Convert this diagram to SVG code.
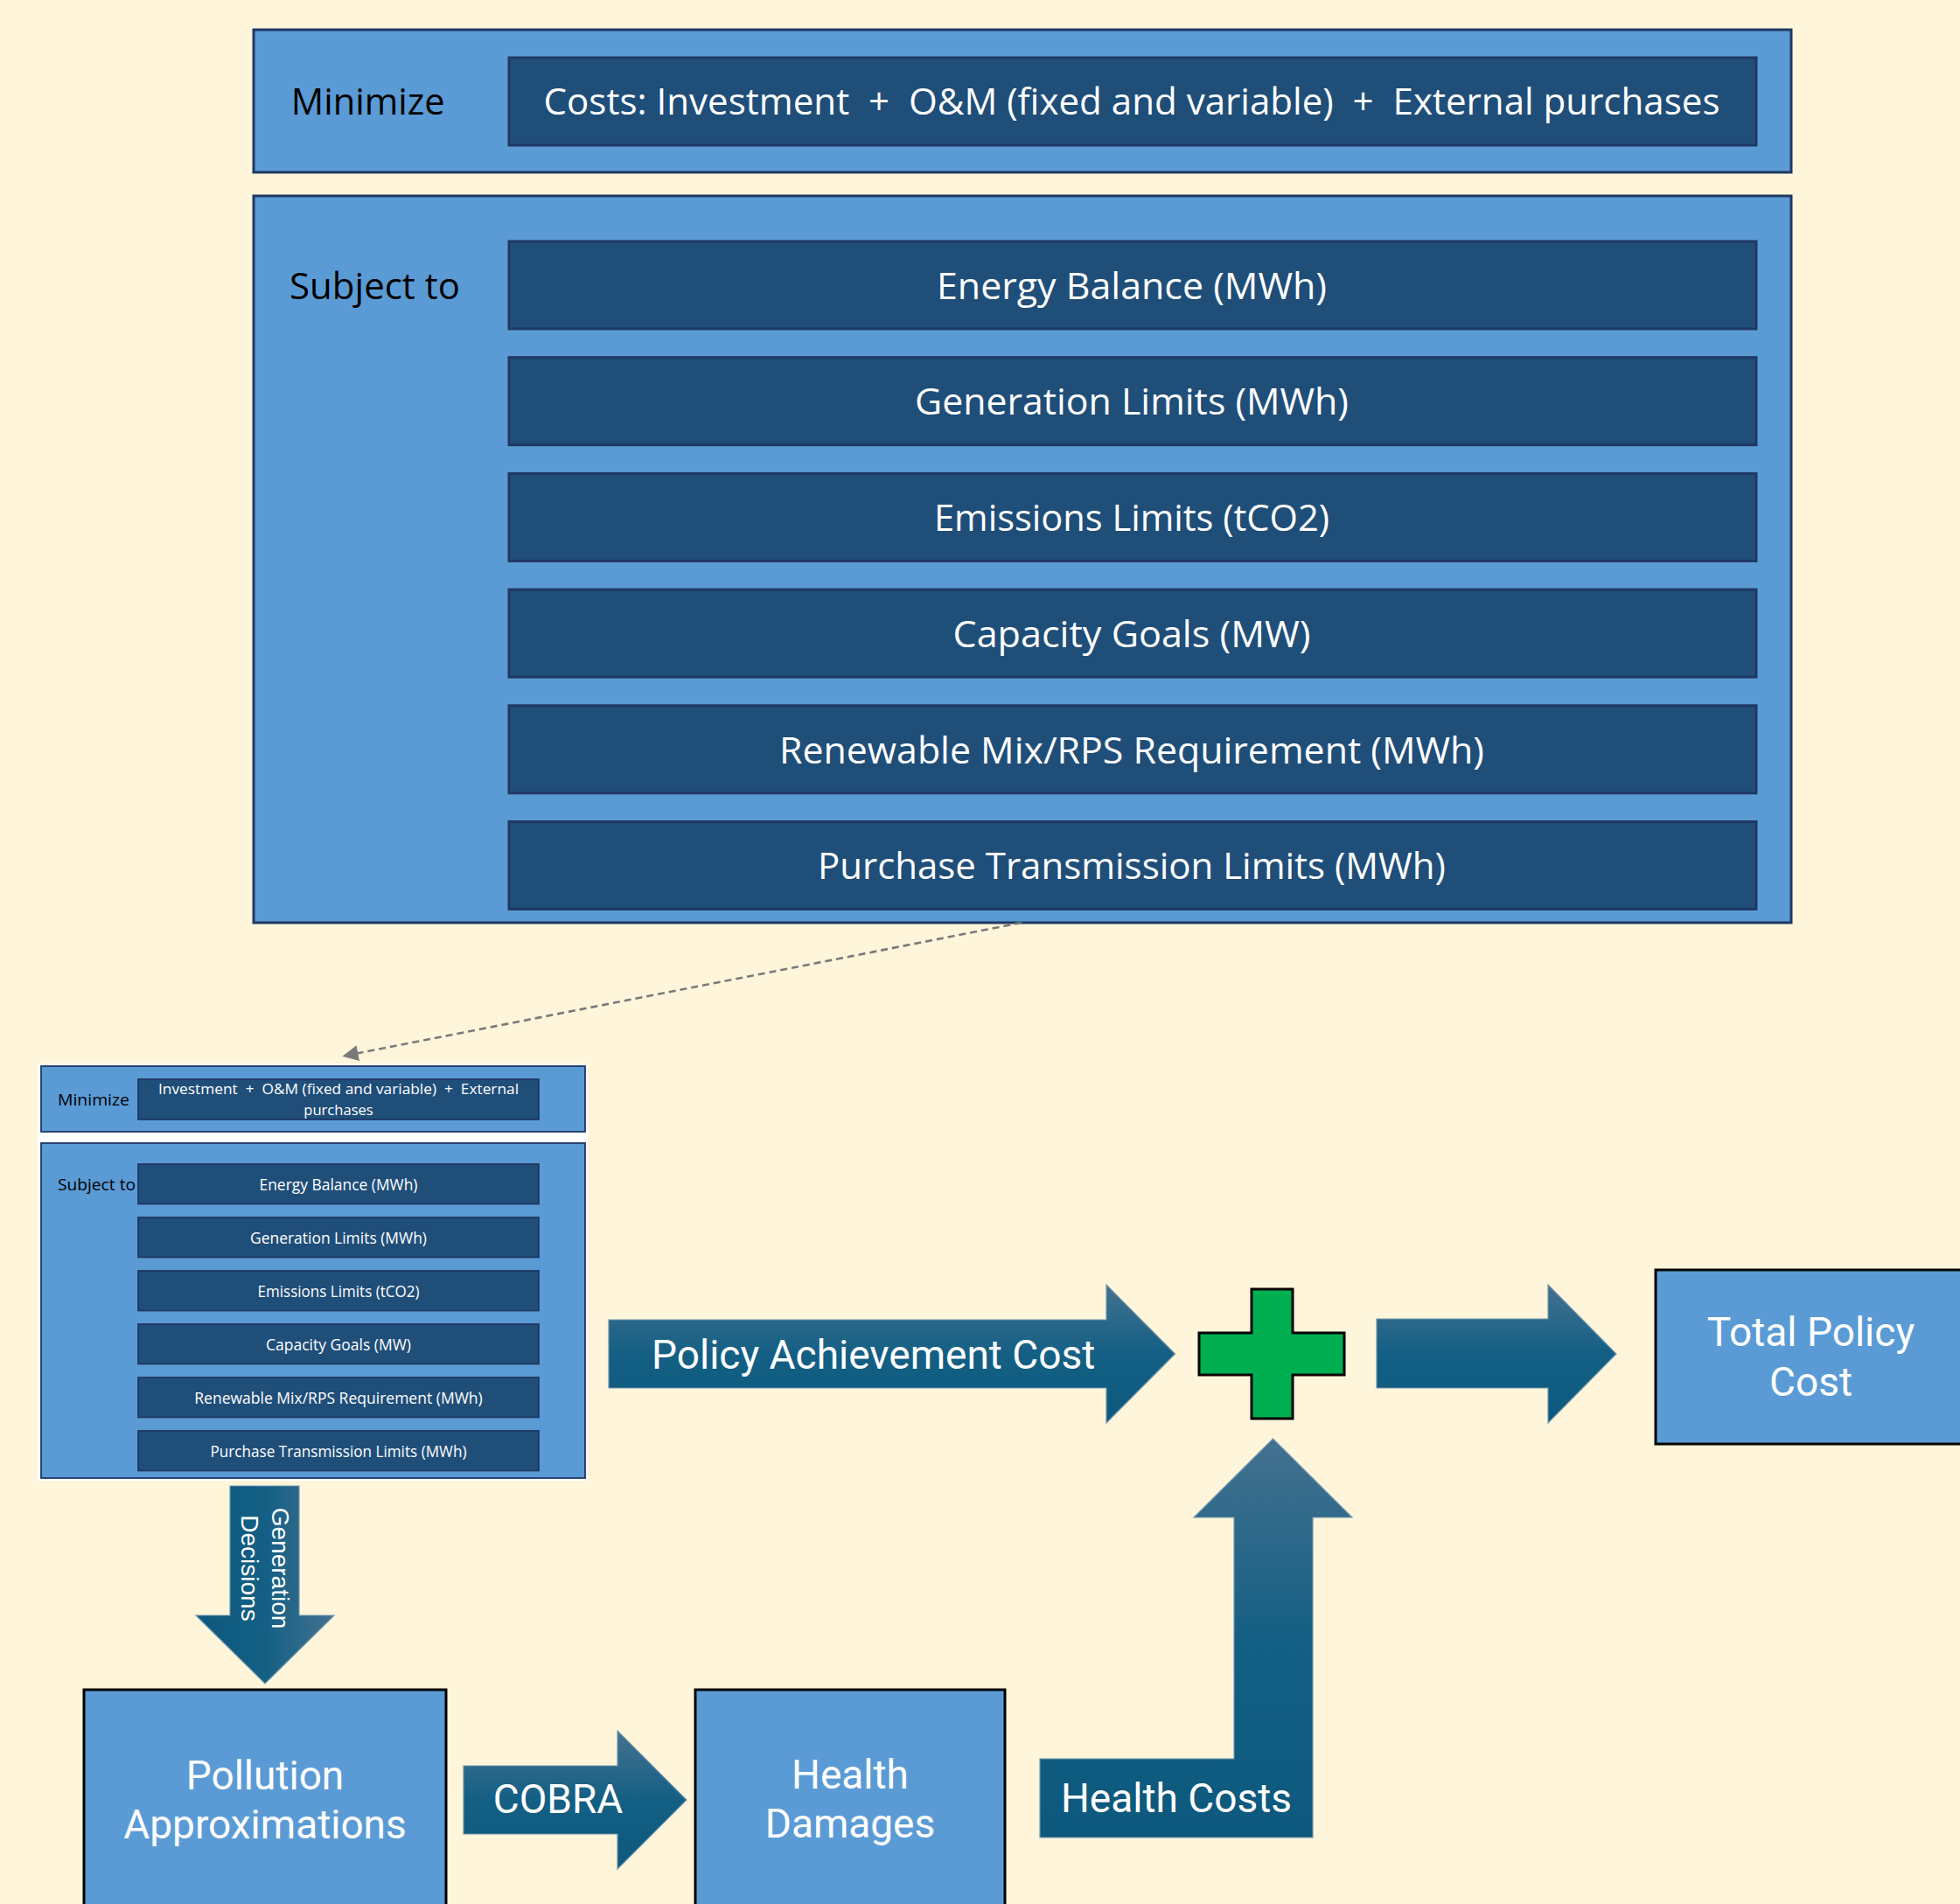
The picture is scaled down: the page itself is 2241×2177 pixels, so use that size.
<svg xmlns="http://www.w3.org/2000/svg" width="2241" height="2177" viewBox="0 0 2241 2177">
<defs>
<style>
.bg{fill:#fef5da}
.outer{fill:#5b9bd5;stroke:#203864;stroke-width:3}
.outerS{fill:#5b9bd5;stroke:#203864;stroke-width:1.8}
.inner{fill:#1f4e79;stroke:#203864;stroke-width:3}
.innerS{fill:#1f4e79;stroke:#203864;stroke-width:1.8}
.node{fill:#5b9bd5;stroke:#000;stroke-width:3}
.cal{font-family:"Open Sans","Liberation Sans",sans-serif}
.big{font-size:42px}
.sm{font-size:19px}
.xs{font-size:17px}
.dark{fill:#000}
.white{fill:#fff}
.apt{font-family:Roboto,"Liberation Sans",sans-serif;font-size:46px;fill:#fff}
.arrow{stroke:#6f95ad;stroke-width:1.2}
</style>
<linearGradient id="gV" x1="0" y1="0" x2="0" y2="1">
<stop offset="0" stop-color="#44718f"/>
<stop offset="0.5" stop-color="#145f84"/>
<stop offset="1" stop-color="#0d587d"/>
</linearGradient>
<linearGradient id="gH" x1="1" y1="0" x2="0" y2="0">
<stop offset="0" stop-color="#44718f"/>
<stop offset="0.5" stop-color="#145f84"/>
<stop offset="1" stop-color="#0d587d"/>
</linearGradient>
<marker id="ah" markerWidth="7" markerHeight="7" refX="6" refY="3.5" orient="auto" markerUnits="strokeWidth">
<path d="M0,0 L7,3.5 L0,7 Z" fill="#7a7a7a"/>
</marker>
</defs>
<rect class="bg" x="0" y="0" width="2241" height="2177"/>

<g id="objective">
<rect class="outer" x="290" y="34" width="1758" height="163"/>
<text class="cal big dark" x="332.7" y="131" textLength="176" lengthAdjust="spacingAndGlyphs">Minimize</text>
<rect class="inner" x="582" y="66" width="1426" height="100"/>
<text class="cal big white" x="1294" y="131" text-anchor="middle" xml:space="preserve" textLength="1345" lengthAdjust="spacingAndGlyphs">Costs: Investment  +  O&amp;M (fixed and variable)  +  External purchases</text>
</g>

<g id="constraints">
<rect class="outer" x="290" y="224" width="1758" height="831"/>
<text class="cal big dark" x="331" y="341.7" textLength="195" lengthAdjust="spacingAndGlyphs">Subject to</text>
<rect class="inner" x="582" y="276" width="1426" height="100"/>
<rect class="inner" x="582" y="408.7" width="1426" height="100"/>
<rect class="inner" x="582" y="541.4" width="1426" height="100"/>
<rect class="inner" x="582" y="674.1" width="1426" height="100"/>
<rect class="inner" x="582" y="806.8" width="1426" height="100"/>
<rect class="inner" x="582" y="939.5" width="1426" height="100"/>
<text class="cal big white" x="1294" y="341.7" text-anchor="middle" textLength="446" lengthAdjust="spacingAndGlyphs">Energy Balance (MWh)</text>
<text class="cal big white" x="1294" y="474.4" text-anchor="middle" textLength="496" lengthAdjust="spacingAndGlyphs">Generation Limits (MWh)</text>
<text class="cal big white" x="1294" y="607.1" text-anchor="middle" textLength="452" lengthAdjust="spacingAndGlyphs">Emissions Limits (tCO2)</text>
<text class="cal big white" x="1294" y="739.8" text-anchor="middle" textLength="409" lengthAdjust="spacingAndGlyphs">Capacity Goals (MW)</text>
<text class="cal big white" x="1294" y="872.5" text-anchor="middle" textLength="806" lengthAdjust="spacingAndGlyphs">Renewable Mix/RPS Requirement (MWh)</text>
<text class="cal big white" x="1294" y="1005.2" text-anchor="middle" textLength="718" lengthAdjust="spacingAndGlyphs">Purchase Transmission Limits (MWh)</text>
</g>

<g id="model-small">
<rect x="43" y="1216" width="629" height="477" fill="#ffffff"/>
<rect class="outerS" x="47" y="1219" width="622" height="75"/>
<text class="cal sm dark" x="66" y="1264" textLength="82" lengthAdjust="spacingAndGlyphs">Minimize</text>
<rect class="innerS" x="158" y="1234" width="458" height="46"/>
<text class="cal xs white" x="387" y="1251" text-anchor="middle" xml:space="preserve" textLength="412" lengthAdjust="spacingAndGlyphs">Investment  +  O&amp;M (fixed and variable)  +  External</text>
<text class="cal xs white" x="387" y="1275" text-anchor="middle" textLength="79.5" lengthAdjust="spacingAndGlyphs">purchases</text>
<rect class="outerS" x="47" y="1307" width="622" height="383"/>
<text class="cal sm dark" x="66" y="1360.7" textLength="89" lengthAdjust="spacingAndGlyphs">Subject to</text>
<rect class="innerS" x="158" y="1331" width="458" height="45.5"/>
<rect class="innerS" x="158" y="1392" width="458" height="45.5"/>
<rect class="innerS" x="158" y="1453" width="458" height="45.5"/>
<rect class="innerS" x="158" y="1514" width="458" height="45.5"/>
<rect class="innerS" x="158" y="1575" width="458" height="45.5"/>
<rect class="innerS" x="158" y="1636" width="458" height="45.5"/>
<text class="cal sm white" x="387" y="1360.7" text-anchor="middle" textLength="181" lengthAdjust="spacingAndGlyphs">Energy Balance (MWh)</text>
<text class="cal sm white" x="387" y="1421.7" text-anchor="middle" textLength="202" lengthAdjust="spacingAndGlyphs">Generation Limits (MWh)</text>
<text class="cal sm white" x="387" y="1482.7" text-anchor="middle" textLength="185" lengthAdjust="spacingAndGlyphs">Emissions Limits (tCO2)</text>
<text class="cal sm white" x="387" y="1543.7" text-anchor="middle" textLength="166" lengthAdjust="spacingAndGlyphs">Capacity Goals (MW)</text>
<text class="cal sm white" x="387" y="1604.7" text-anchor="middle" textLength="329.5" lengthAdjust="spacingAndGlyphs">Renewable Mix/RPS Requirement (MWh)</text>
<text class="cal sm white" x="387" y="1665.7" text-anchor="middle" textLength="293" lengthAdjust="spacingAndGlyphs">Purchase Transmission Limits (MWh)</text>
</g>

<g id="pollution">
<rect class="node" x="96" y="1932" width="414" height="260"/>
<text class="apt" x="303" y="2046" text-anchor="middle">Pollution</text>
<text class="apt" x="303" y="2101.7" text-anchor="middle">Approximations</text>
</g>

<g id="health-damages">
<rect class="node" x="795" y="1932" width="354" height="260"/>
<text class="apt" x="972" y="2045" text-anchor="middle">Health</text>
<text class="apt" x="972" y="2100.7" text-anchor="middle">Damages</text>
</g>

<g id="total-policy-cost">
<rect class="node" x="1893" y="1452" width="360" height="199"/>
<text class="apt" x="2070.5" y="1539" text-anchor="middle">Total Policy</text>
<text class="apt" x="2070.5" y="1596" text-anchor="middle">Cost</text>
</g>

<g id="plus">
<polygon points="1431,1474 1478,1474 1478,1524 1537,1524 1537,1572 1478,1572 1478,1622 1431,1622 1431,1572 1371,1572 1371,1524 1431,1524" fill="#00b050" stroke="#000" stroke-width="3"/>
</g>

<g id="connectors">
<line x1="1168" y1="1055" x2="394" y2="1207.2" stroke="#7a7a7a" stroke-width="2.6" stroke-dasharray="8,5" marker-end="url(#ah)"/>
<g id="generation-decisions">
<polygon class="arrow" points="263,1699 342,1699 342,1847 382,1847 303,1925 224,1847 263,1847" fill="url(#gH)"/>
<text font-family="'Liberation Sans',Arial,sans-serif" font-size="28" fill="#fff" text-anchor="middle" transform="translate(311,1793) rotate(90)"><tspan x="0" y="0">Generation</tspan><tspan x="0" y="35">Decisions</tspan></text>
</g>
<g id="policy-achievement-cost">
<polygon class="arrow" points="696,1509 1265,1509 1265,1469 1343.5,1548 1265,1627 1265,1587 696,1587" fill="url(#gV)"/>
<text class="apt" x="745" y="1565">Policy Achievement Cost</text>
</g>
<g id="to-total">
<polygon class="arrow" points="1574,1508 1770,1508 1770,1469 1848,1548 1770,1627 1770,1587 1574,1587" fill="url(#gV)"/>
</g>
<g id="cobra">
<polygon class="arrow" points="530,2019 706,2019 706,1979 785,2058 706,2137 706,2097 530,2097" fill="url(#gV)"/>
<text class="apt" x="638" y="2073.3" text-anchor="middle">COBRA</text>
</g>
<g id="health-costs">
<polygon class="arrow" points="1189,2011 1411,2011 1411,1735 1365,1735 1455.5,1645 1546,1735 1501,1735 1501,2101 1189,2101" fill="url(#gV)"/>
<text class="apt" x="1345" y="2071.7" text-anchor="middle">Health Costs</text>
</g>
</g>
</svg>
